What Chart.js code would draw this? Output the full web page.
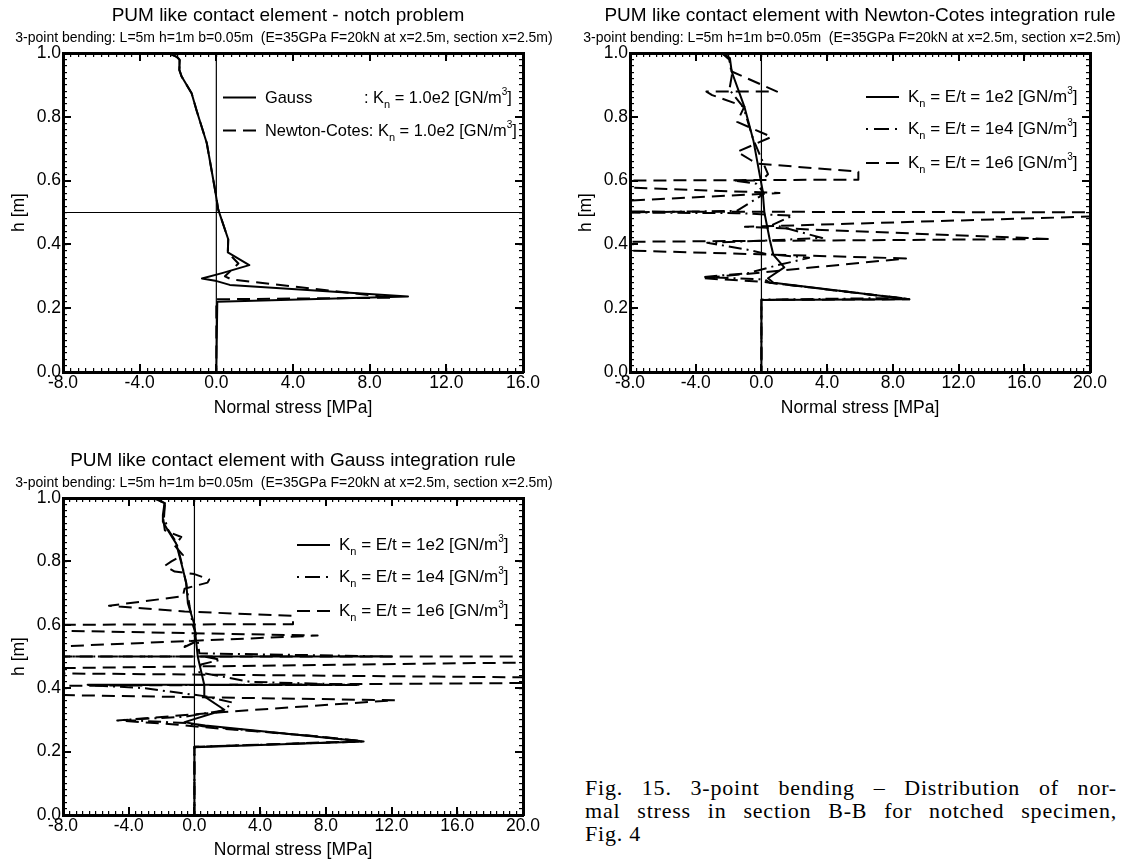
<!DOCTYPE html>
<html>
<head>
<meta charset="utf-8">
<script src="https://cdn.jsdelivr.net/npm/chart.js@4.4.1/dist/chart.umd.min.js"></script>
<style>
  html,body{margin:0;padding:0;background:#fff;}
  body{width:1123px;height:867px;position:relative;overflow:hidden;font-family:"Liberation Sans",Arial,sans-serif;color:#000;}
  canvas{position:absolute;}
  .ttl{position:absolute;font-size:19px;line-height:1;white-space:nowrap;transform:translateX(-50%);}
  .sub{position:absolute;font-size:14px;line-height:1;white-space:nowrap;transform:translateX(-50%);}
  .lg{position:absolute;font-size:17px;white-space:nowrap;display:flex;align-items:center;transform:translateY(-50%);}
  .lg.s{font-size:16.4px;}
  .lg svg{display:block;margin-right:9px;}
  .lg sub{font-size:11px;vertical-align:-5px;line-height:0;}
  .lg sup{font-size:10px;vertical-align:8px;line-height:0;}
  .cap{position:absolute;left:585px;top:776px;width:532px;font-family:"Liberation Serif","Times New Roman",serif;font-size:22px;letter-spacing:0.8px;line-height:23px;}
  .cap .j{text-align:justify;text-align-last:justify;}
</style>
</head>
<body>
<canvas id="c1" width="560" height="430" style="left:0;top:0;width:560px;height:430px"></canvas>
<canvas id="c2" width="563" height="430" style="left:560px;top:0;width:563px;height:430px"></canvas>
<canvas id="c3" width="560" height="427" style="left:0;top:440px;width:560px;height:427px"></canvas>

<div class="ttl" style="left:288px;top:4.7px">PUM like contact element - notch problem</div>
<div class="sub" style="left:284px;top:30.2px">3-point bending: L=5m h=1m b=0.05m&nbsp; (E=35GPa F=20kN at x=2.5m, section x=2.5m)</div>
<div class="ttl" style="left:860px;top:4.7px">PUM like contact element with Newton-Cotes integration rule</div>
<div class="sub" style="left:852px;top:30.2px">3-point bending: L=5m h=1m b=0.05m&nbsp; (E=35GPa F=20kN at x=2.5m, section x=2.5m)</div>
<div class="ttl" style="left:293px;top:450.2px">PUM like contact element with Gauss integration rule</div>
<div class="sub" style="left:284px;top:475.2px">3-point bending: L=5m h=1m b=0.05m&nbsp; (E=35GPa F=20kN at x=2.5m, section x=2.5m)</div>

<div class="lg s" style="left:223px;top:97px"><svg width="33" height="6"><line x1="0" y1="3" x2="33" y2="3" stroke="#000" stroke-width="2"/></svg><span style="display:inline-block;width:99px">Gauss</span><span>: K<sub>n</sub> = 1.0e2 [GN/m<sup>3</sup>]</span></div>
<div class="lg s" style="left:223px;top:130px"><svg width="33" height="6"><line x1="0" y1="3" x2="33" y2="3" stroke="#000" stroke-width="2" stroke-dasharray="13 7"/></svg><span>Newton-Cotes: K<sub>n</sub> = 1.0e2 [GN/m<sup>3</sup>]</span></div>
<div class="lg" style="left:866px;top:97px"><svg width="33" height="6"><line x1="0" y1="3" x2="33" y2="3" stroke="#000" stroke-width="2"/></svg><span>K<sub>n</sub> = E/t = 1e2 [GN/m<sup>3</sup>]</span></div>
<div class="lg" style="left:866px;top:129px"><svg width="33" height="6"><line x1="0" y1="3" x2="33" y2="3" stroke="#000" stroke-width="2" stroke-dasharray="2 6 15 6 2"/></svg><span>K<sub>n</sub> = E/t = 1e4 [GN/m<sup>3</sup>]</span></div>
<div class="lg" style="left:866px;top:163px"><svg width="33" height="6"><line x1="0" y1="3" x2="33" y2="3" stroke="#000" stroke-width="2" stroke-dasharray="13 7"/></svg><span>K<sub>n</sub> = E/t = 1e6 [GN/m<sup>3</sup>]</span></div>
<div class="lg" style="left:297px;top:545px"><svg width="33" height="6"><line x1="0" y1="3" x2="33" y2="3" stroke="#000" stroke-width="2"/></svg><span>K<sub>n</sub> = E/t = 1e2 [GN/m<sup>3</sup>]</span></div>
<div class="lg" style="left:297px;top:577px"><svg width="33" height="6"><line x1="0" y1="3" x2="33" y2="3" stroke="#000" stroke-width="2" stroke-dasharray="2 6 15 6 2"/></svg><span>K<sub>n</sub> = E/t = 1e4 [GN/m<sup>3</sup>]</span></div>
<div class="lg" style="left:297px;top:611px"><svg width="33" height="6"><line x1="0" y1="3" x2="33" y2="3" stroke="#000" stroke-width="2" stroke-dasharray="13 7"/></svg><span>K<sub>n</sub> = E/t = 1e6 [GN/m<sup>3</sup>]</span></div>

<div class="cap">
  <div class="j">Fig. 15. 3-point bending – Distribution of nor-</div>
  <div class="j">mal stress in section B-B for notched specimen,</div>
  <div>Fig. 4</div>
</div>

<script>
// ---------- data: normal stress [MPa] (S) vs height h [m] (H) ----------
// Chart 1: notch problem
const gaussS1 = [-2.5,-2.07,-1.9,-1.93,-1.81,-1.29,-1.03,-0.5,-0.07,0.1,0.62,0.6,1.72,0.3,-0.75,0.02,0.7,10.0,0.05,0.0];
const gaussH1 = [1.0,0.988,0.978,0.947,0.926,0.874,0.82,0.718,0.572,0.509,0.416,0.375,0.335,0.31,0.293,0.285,0.273,0.237,0.22,0.0];
const ncS1 = [-2.5,-2.07,-1.9,-1.93,-1.81,-1.29,-1.03,-0.5,-0.07,0.1,0.62,0.6,1.15,0.45,0.8,9.2,0.0,0.0];
const ncH1 = [1.0,0.988,0.978,0.947,0.926,0.874,0.82,0.718,0.572,0.509,0.416,0.375,0.34,0.30,0.29,0.233,0.228,0.0];
// Chart 2: Newton-Cotes integration
const nc1e2S = [-2.36,-1.92,-1.81,-1.04,-0.49,-0.04,0.07,0.18,0.51,0.73,1.39,0.4,0.73,9.0,0.0,0.0];
const nc1e2H = [1.0,0.984,0.942,0.832,0.726,0.60,0.57,0.5,0.414,0.367,0.328,0.294,0.28,0.228,0.226,0.0];
const nc1e4S = [-2.4,-1.95,-1.8,-1.95,-1.1,-0.5,0.4,0.0,-1.7,-0.3,0.1,-0.1,-1.5,-9,-1.5,1.9,0.7,3.7,1.5,-3.3,-0.9,0.3,2.9,1.0,-0.8,-3.5,0.2,0.5,8.5,0.0,0.0];
const nc1e4H = [1.0,0.98,0.93,0.885,0.83,0.73,0.62,0.6,0.6,0.59,0.565,0.55,0.505,0.5,0.498,0.49,0.462,0.42,0.415,0.405,0.384,0.37,0.358,0.335,0.31,0.298,0.29,0.28,0.232,0.227,0.0];
const nc1e6S = [-2.4,-1.95,-1.81,0.95,-3.35,-3.0,-1.04,-1.48,0.62,-1.48,-0.6,-0.2,5.9,5.9,-9,-9,1.1,-9,-9,25,25,-1.0,17.6,-9,-9,8.8,-3.6,0.0,9.0,0.0,0.0];
const nc1e6H = [1.0,0.98,0.942,0.879,0.879,0.868,0.832,0.784,0.737,0.69,0.663,0.653,0.628,0.603,0.60,0.58,0.561,0.535,0.503,0.5,0.495,0.455,0.417,0.408,0.382,0.356,0.294,0.283,0.228,0.226,0.0];
// Chart 3: Gauss integration
const g1e2S = [-3.24,-2.43,-1.82,-1.92,-1.92,-1.62,-1.11,-0.81,-0.5,-0.4,0.0,0.2,0.6,0.6,1.82,-0.6,0.0,0.66,10.3,0.0,0.0];
const g1e2H = [1.0,0.998,0.984,0.947,0.925,0.898,0.856,0.797,0.733,0.668,0.6,0.5,0.41,0.374,0.332,0.293,0.287,0.282,0.232,0.214,0.0];
const g1e4S = [-3.2,-2.2,-1.8,-1.85,-1.6,-1.1,-0.8,-0.5,-0.3,-0.1,0.1,-0.6,0.2,0.3,12,-9,12,0.6,1.6,0.4,0.3,3.4,10,-6.5,10,-6.5,-3.0,-1.6,0.6,2.3,1.8,-0.6,-4.3,-0.5,0.5,7,10.3,0.0,0.0];
const g1e4H = [1.0,0.995,0.98,0.94,0.9,0.86,0.8,0.73,0.66,0.6,0.57,0.53,0.55,0.51,0.5,0.5,0.5,0.5,0.49,0.475,0.45,0.42,0.411,0.411,0.41,0.41,0.4,0.39,0.375,0.355,0.33,0.31,0.3,0.29,0.28,0.25,0.232,0.215,0.0];
const g1e6S = [-3.2,-2.4,-1.8,-1.9,-1.8,-0.8,-1.2,-0.7,-1.4,-1.8,-1.2,0.0,0.9,0.8,-0.6,-0.7,-5.2,-0.6,6.0,6.0,-9,-9,7.5,-9,-9,25,25,-9,-9,25,25,-9,-9,12.2,1.8,-4.7,-1.0,0.3,7.1,10.2,0.0,0.0];
const g1e6H = [1.0,0.998,0.984,0.935,0.898,0.877,0.85,0.82,0.8,0.786,0.768,0.76,0.743,0.733,0.714,0.69,0.66,0.642,0.628,0.602,0.6,0.582,0.566,0.53,0.5,0.5,0.484,0.463,0.447,0.432,0.418,0.407,0.379,0.362,0.325,0.298,0.285,0.278,0.25,0.233,0.215,0.0];

// axes
const xMin = -8, xMax1 = 16, xMax23 = 20, xMajor = 4, xMinor = 0.4;
const yMin = 0, yMax = 1, yMajor = 0.2, yMinor = 0.02;
const FONT = "'Liberation Sans', Arial, sans-serif";
const SOLID = [], DASH = [13,7], DASHDOT = [13,5,2,5];

function pts(s, h){ return s.map((v,i)=>({x:v, y:h[i]})); }
function ds(label, s, h, dash){
  return {label, data: pts(s,h), xAxisID:'x', yAxisID:'y', showLine:true, borderColor:'#000', backgroundColor:'#000',
          borderWidth:2, borderDash:dash, pointRadius:0, pointHoverRadius:0, fill:false,
          tension:0, borderJoinStyle:'round'};
}

// thin reference lines (x = 0, h = 0.5) through the scales
const refLines = {
  id:'refLines',
  beforeDatasetsDraw(chart, args, o){
    const {ctx, chartArea:a} = chart, xs = chart.scales.x, ys = chart.scales.y;
    ctx.save(); ctx.strokeStyle='#000'; ctx.lineWidth=1.2; ctx.setLineDash([]);
    (o.vLines||[]).forEach(v=>{ const p=xs.getPixelForValue(v); ctx.beginPath(); ctx.moveTo(p,a.top); ctx.lineTo(p,a.bottom); ctx.stroke(); });
    (o.hLines||[]).forEach(v=>{ const p=ys.getPixelForValue(v); ctx.beginPath(); ctx.moveTo(a.left,p); ctx.lineTo(a.right,p); ctx.stroke(); });
    ctx.restore();
  }
};

// frame + inward major/minor ticks on all four sides, made with the library's own axes
function buildScales(xMax, xAxisH, titleBottom){
  const tickFont = {family:FONT, size:17.5};
  const majGrid = {display:true, drawOnChartArea:false, drawTicks:true, tickLength:-8, lineWidth:2, color:'#000'};
  const minGrid = {display:true, drawOnChartArea:false, drawTicks:true, tickLength:-4, lineWidth:1.2, color:'#000'};
  const frame = {display:true, width:3, color:'#000'};
  const noBorder = {display:false};
  const xr = {type:'linear', min:xMin, max:xMax};
  const yr = {type:'linear', min:yMin, max:yMax};
  return {
    x: {...xr, position:'bottom', weight:1, grid:majGrid, border:frame,
        ticks:{stepSize:xMajor, padding:9, maxRotation:0, autoSkip:false, color:'#000', font:tickFont,
               callback:v=>Number(v).toFixed(1)},
        title:{display:true, text:'Normal stress [MPa]', color:'#000', font:tickFont, padding:{top:0, bottom:titleBottom}},
        afterFit:s=>{ s.height = xAxisH; }},
    xm: {...xr, position:'bottom', weight:0, grid:minGrid, border:noBorder,
         ticks:{display:false, stepSize:xMinor, autoSkip:false}, afterFit:s=>{ s.height = 0; }},
    x2: {...xr, position:'top', weight:1, grid:majGrid, border:frame,
         ticks:{display:false, stepSize:xMajor, autoSkip:false}, afterFit:s=>{ s.height = 0; }},
    x2m: {...xr, position:'top', weight:0, grid:minGrid, border:noBorder,
          ticks:{display:false, stepSize:xMinor, autoSkip:false}, afterFit:s=>{ s.height = 0; }},
    y: {...yr, position:'left', weight:1, grid:majGrid, border:frame,
        ticks:{stepSize:yMajor, padding:10, autoSkip:false, color:'#000', font:tickFont,
               callback:v=>Number(v).toFixed(1)},
        title:{display:true, text:'h [m]', color:'#000', font:tickFont, padding:{top:8.5, bottom:0}},
        afterFit:s=>{ s.width = 63; }},
    ym: {...yr, position:'left', weight:0, grid:minGrid, border:noBorder,
         ticks:{display:false, stepSize:yMinor, autoSkip:false}, afterFit:s=>{ s.width = 0; }},
    y2: {...yr, position:'right', weight:1, grid:majGrid, border:frame,
         ticks:{display:false, stepSize:yMajor, autoSkip:false}, afterFit:s=>{ s.width = 0; }},
    y2m: {...yr, position:'right', weight:0, grid:minGrid, border:noBorder,
          ticks:{display:false, stepSize:yMinor, autoSkip:false}, afterFit:s=>{ s.width = 0; }}
  };
}

function makeChart(id, datasets, xMax, pad, xAxisH, titleBottom, lines){
  return new Chart(document.getElementById(id), {
    type:'scatter',
    data:{datasets},
    plugins:[refLines],
    options:{
      responsive:false, animation:false, devicePixelRatio:1,
      layout:{padding:pad},
      events:[],
      plugins:{legend:{display:false}, tooltip:{enabled:false}, refLines:lines},
      scales: buildScales(xMax, xAxisH, titleBottom)
    }
  });
}

makeChart('c1', [
  ds('Gauss : Kn = 1.0e2 [GN/m3]', gaussS1, gaussH1, SOLID),
  ds('Newton-Cotes: Kn = 1.0e2 [GN/m3]', ncS1, ncH1, DASH)
], xMax1, {left:0, top:53, right:37, bottom:0}, 58, 11.5, {vLines:[0], hLines:[0.5]});

makeChart('c2', [
  ds('Kn = E/t = 1e2 [GN/m3]', nc1e2S, nc1e2H, SOLID),
  ds('Kn = E/t = 1e4 [GN/m3]', nc1e4S, nc1e4H, DASHDOT),
  ds('Kn = E/t = 1e6 [GN/m3]', nc1e6S, nc1e6H, DASH)
], xMax23, {left:7, top:53, right:33, bottom:0}, 58, 11.5, {vLines:[0], hLines:[]});

makeChart('c3', [
  ds('Kn = E/t = 1e2 [GN/m3]', g1e2S, g1e2H, SOLID),
  ds('Kn = E/t = 1e4 [GN/m3]', g1e4S, g1e4H, DASHDOT),
  ds('Kn = E/t = 1e6 [GN/m3]', g1e6S, g1e6H, DASH)
], xMax23, {left:0, top:58, right:37, bottom:0}, 52, 6.5, {vLines:[0], hLines:[]});
</script>
</body>
</html>
